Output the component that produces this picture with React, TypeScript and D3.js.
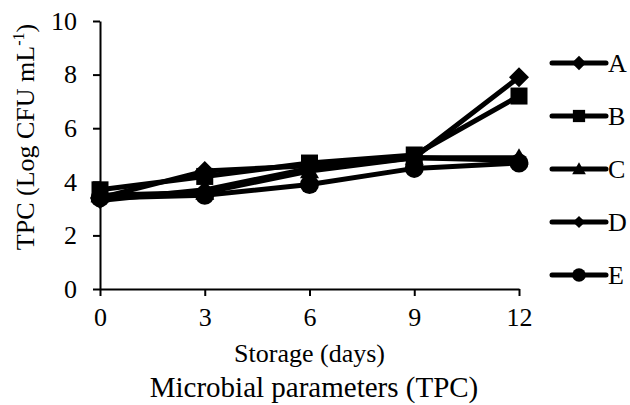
import React, { useEffect, useRef } from "react";
import * as d3 from "d3";

const days = [0, 3, 6, 9, 12];
const seriesNames = ["A", "B", "C", "D", "E"];
const seriesA = [3.4, 4.4, 4.6, 4.9, 7.9];
const seriesB = [3.7, 4.2, 4.7, 5.0, 7.2];
const seriesC = [3.5, 3.6, 4.4, 4.9, 4.9];
const seriesD = [3.3, 3.7, 4.5, 4.9, 4.8];
const seriesE = [3.4, 3.5, 3.9, 4.5, 4.7];
const yTicks = [0, 2, 4, 6, 8, 10];

const FONT = "'Liberation Serif', 'Times New Roman', Times, serif";

// marker shape per series
const markers = ["diamond", "square", "triangle", "diamondSmall", "circle"];

function drawMarker(g: any, kind: string, x: number, y: number, big: boolean) {
  const s = big ? 1 : 0.72;
  if (kind === "diamond" || kind === "diamondSmall") {
    const r = (kind === "diamond" ? 10 : 8.5) * s;
    g.append("path")
      .attr("d", `M${x},${y - r}L${x + r},${y}L${x},${y + r}L${x - r},${y}Z`)
      .style("fill", "#000");
  } else if (kind === "square") {
    const h = 8.5 * s;
    g.append("rect")
      .attr("x", x - h)
      .attr("y", y - h)
      .attr("width", h * 2)
      .attr("height", h * 2)
      .style("fill", "#000");
  } else if (kind === "triangle") {
    const r = 9.5 * s;
    g.append("path")
      .attr("d", `M${x},${y - r}L${x + r},${y + r * 0.75}L${x - r},${y + r * 0.75}Z`)
      .style("fill", "#000");
  } else {
    g.append("circle")
      .attr("cx", x)
      .attr("cy", y)
      .attr("r", 9.5 * s)
      .style("fill", "#000");
  }
}

export default function App() {
  const ref = useRef<SVGSVGElement>(null);

  useEffect(() => {
    const svg = d3.select(ref.current);
    svg.selectAll("*").remove();

    const data = [seriesA, seriesB, seriesC, seriesD, seriesE];
    const margin = { left: 100, top: 21 };
    const w = 419,
      h = 268;

    const x = d3.scaleLinear().domain([0, 12]).range([0, w]);
    const y = d3.scaleLinear().domain([0, 10]).range([h, 0]);

    const g = svg.append("g").attr("transform", `translate(${margin.left},${margin.top})`);

    // y-axis
    const yAxis = g
      .append("g")
      .call(d3.axisLeft(y).tickValues(yTicks).tickSize(7).tickSizeOuter(0).tickPadding(16));
    yAxis.select(".domain").attr("stroke-width", 2);
    yAxis.selectAll(".tick line").attr("stroke-width", 2);
    yAxis.selectAll("text").style("font-family", FONT).style("font-size", "26px").attr("fill", "#000");

    // x-axis
    const xAxis = g
      .append("g")
      .attr("transform", `translate(0,${h})`)
      .call(d3.axisBottom(x).tickValues(days).tickSize(7).tickSizeOuter(0).tickPadding(12));
    xAxis.select(".domain").attr("stroke-width", 2);
    xAxis.selectAll(".tick line").attr("stroke-width", 2);
    xAxis.selectAll("text").style("font-family", FONT).style("font-size", "26px").attr("fill", "#000");

    // lines
    const line = d3
      .line<number>()
      .x((d, i) => x(days[i]))
      .y((d) => y(d));
    data.forEach((vals) => {
      g.append("path")
        .datum(vals)
        .attr("d", line)
        .style("fill", "none")
        .style("stroke", "#000")
        .style("stroke-width", 5)
        .style("stroke-linejoin", "round");
    });
    data.forEach((vals, k) => {
      vals.forEach((v, i) => drawMarker(g, markers[k], x(days[i]), y(v), true));
    });

    // legend
    const lg = svg.append("g");
    seriesNames.forEach((name, k) => {
      const ly = 63 + k * 53;
      lg.append("line")
        .attr("x1", 552)
        .attr("x2", 606)
        .attr("y1", ly)
        .attr("y2", ly)
        .style("stroke", "#000")
        .style("stroke-width", 5)
        .style("stroke-linecap", "round");
      drawMarker(lg, markers[k], 579, ly, false);
      lg.append("text")
        .attr("x", 608)
        .attr("y", ly + 9)
        .style("font-family", FONT)
        .style("font-size", "26px")
        .text(name);
    });

    // axis labels
    svg
      .append("text")
      .attr("x", margin.left + w / 2)
      .attr("y", 362)
      .style("text-anchor", "middle")
      .style("font-family", FONT)
      .style("font-size", "26px")
      .text("Storage (days)");

    const yl = svg
      .append("text")
      .attr("transform", "rotate(-90)")
      .attr("x", -137)
      .attr("y", 34)
      .style("text-anchor", "middle")
      .style("font-family", FONT)
      .style("font-size", "26px");
    yl.append("tspan").text("TPC (Log CFU mL");
    yl.append("tspan").attr("dy", -10).style("font-size", "16px").text("-1");
    yl.append("tspan").attr("dy", 10).text(")");

    // title
    svg
      .append("text")
      .attr("x", 314)
      .attr("y", 397)
      .style("text-anchor", "middle")
      .style("font-family", FONT)
      .style("font-size", "29px")
      .text("Microbial parameters (TPC)");
  }, []);

  return (
    <svg
      ref={ref}
      width={630}
      height={405}
      style={{ position: "absolute", left: 0, top: 0, background: "#fff" }}
    />
  );
}
